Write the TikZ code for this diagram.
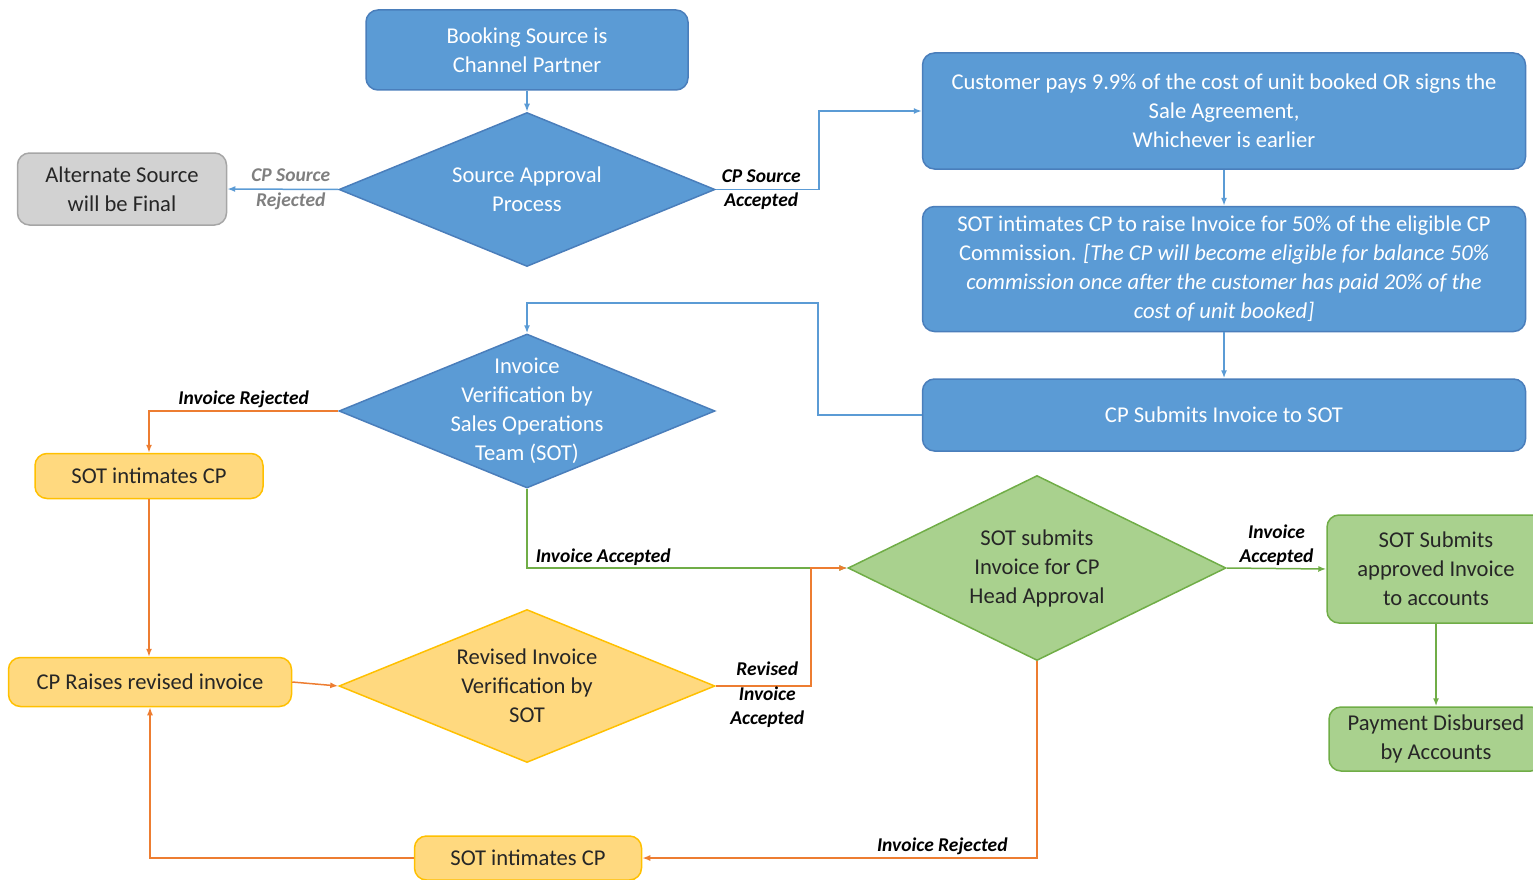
\documentclass[tikz,border=0pt]{standalone}
\usepackage{fontspec}
\setmainfont{Carlito}
\usetikzlibrary{shapes.geometric, arrows.meta, positioning}

\definecolor{cpblue}{HTML}{5B9BD5}
\definecolor{cpblueedge}{HTML}{4A7EBB}
\definecolor{cpgrey}{HTML}{D2D2D2}
\definecolor{cpgreyedge}{HTML}{A6A6A6}
\definecolor{cpgold}{HTML}{FFD97F}
\definecolor{cpgoldedge}{HTML}{FFC000}
\definecolor{cpgreen}{HTML}{A9D18E}
\definecolor{cpgreenedge}{HTML}{70AD47}
\definecolor{cporange}{HTML}{ED7D31}
\definecolor{cptext}{HTML}{262626}
\definecolor{cplabelgrey}{HTML}{7F7F7F}

\begin{document}
\begin{tikzpicture}[
    x=1pt, y=-1pt,
    inside/.style={align=center, font=\fontsize{22.6}{29}\selectfont},
    block/.style={rectangle, draw=cpblueedge, fill=cpblue, text=white, inside, line width=1.5pt, inner sep=0pt, rounded corners=12pt},
    decision/.style={diamond, line width=1.5pt, inner sep=0pt, minimum width=376pt, minimum height=154pt},
    tag/.style={align=center, font=\fontsize{19.5}{24.5}\selectfont\bfseries\itshape, text=black, inner sep=2pt},
    bline/.style={draw=cpblue, line width=1.5pt, -{Latex[length=8pt,width=6pt]}},
    oline/.style={draw=cporange, line width=1.5pt, -{Latex[length=8pt,width=6pt]}},
    gline/.style={draw=cpgreenedge, line width=1.5pt, -{Latex[length=8pt,width=6pt]}}
]
    \useasboundingbox (0,0) rectangle (1533,880);

    % top: source approval
    \node [block, minimum width=322pt, minimum height=80pt] (booking) at (527,50) {Booking Source is\\Channel Partner};
    \node [decision, draw=cpblueedge, fill=cpblue, below=21pt of booking,
        label={[inside, text=white]center:Source Approval\\Process}] (source) {};
    \node [block, fill=cpgrey, draw=cpgreyedge, text=cptext, minimum width=209pt, minimum height=72pt] (alternate) at (122,189) {Alternate Source\\will be Final};

    % right column
    \node [block, minimum width=603pt, minimum height=116pt] (customer) at (1224,111)
        {Customer pays 9.9\% of the cost of unit booked OR signs the\\Sale Agreement,\\Whichever is earlier};
    \node [block, minimum width=603pt, minimum height=125pt, below=36pt of customer] (raise)
        {SOT intimates CP to raise Invoice for 50\% of the eligible CP\\Commission. \textit{[The CP will become eligible for balance 50\%}\\\textit{commission once after the customer has paid 20\% of the}\\\textit{cost of unit booked]}};
    \node [block, minimum width=603pt, minimum height=72pt, below=46pt of raise] (cpsubmit) {CP Submits Invoice to SOT};

    % invoice verification
    \node [decision, draw=cpblueedge, fill=cpblue,
        label={[inside, text=white]center:Invoice\\Verification by\\Sales Operations\\Team (SOT)}] (invoice) at (527,411) {};
    \node [block, fill=cpgold, draw=cpgoldedge, text=cptext, minimum width=228pt, minimum height=45pt] (sotcp) at (149,476) {SOT intimates CP};
    \node [block, fill=cpgold, draw=cpgoldedge, text=cptext, minimum width=283pt, minimum height=49pt] (revisedcp) at (150,682) {CP Raises revised invoice};
    \node [decision, draw=cpgoldedge, fill=cpgold, minimum height=153pt,
        label={[inside, text=cptext]center:Revised Invoice\\Verification by\\SOT}] (revised) at (527,686) {};
    \node [block, fill=cpgold, draw=cpgoldedge, text=cptext, minimum width=227pt, minimum height=44pt] (sotcpb) at (528,858) {SOT intimates CP};

    % head approval and payment
    \node [decision, draw=cpgreenedge, fill=cpgreen, minimum width=378pt, minimum height=185pt,
        label={[inside, text=cptext]center:SOT submits\\Invoice for CP\\Head Approval}] (approval) at (1037,568) {};
    \node [block, fill=cpgreen, draw=cpgreenedge, text=cptext, minimum width=218pt, minimum height=108pt] (approved) at (1436,569) {SOT Submits\\approved Invoice\\to accounts};
    \node [block, fill=cpgreen, draw=cpgreenedge, text=cptext, minimum width=214pt, minimum height=64pt] (payment) at (1436,739) {Payment Disbursed\\by Accounts};

    % connectors
    \path [bline] (booking) -- (source);
    \path [bline] (source.west) -- node [tag, text=cplabelgrey, xshift=8pt] {CP Source\\Rejected} (alternate.east);
    \path [bline] (source.east) -- node [tag, xshift=-6pt] {CP Source\\Accepted} ++(103,0) |- (customer.west);
    \path [bline] (customer) -- (raise);
    \path [bline] (raise) -- (cpsubmit);
    \path [bline] (cpsubmit.west) -- ++(-104,0) -- ++(0,-112) -| (invoice.north);

    \path [oline] (invoice.west) -| node [tag, above, pos=0.25] {Invoice Rejected} (sotcp.north);
    \path [oline] (sotcp.south) -- (sotcp.south |- revisedcp.north);
    \path [oline] (revisedcp.east) -- (revised.west);
    \path [gline] (invoice.south) |- node [tag, above right, pos=0.5, xshift=6pt] {Invoice Accepted} (approval.west);
    \path [oline] (revised.east) -- node [tag, yshift=-9pt, xshift=4pt] {Revised\\Invoice\\Accepted} ++(95,0) |- (approval.west);

    \path [gline] (approval.east) -- node [tag, above] {Invoice\\Accepted} (approved.west);
    \path [gline] (approved.south) -- (approved.south |- payment.north);
    \path [oline] (approval.south) |- node [tag, above, pos=0.62] {Invoice Rejected} (sotcpb.east);
    \path [oline] (sotcpb.west) -| (revisedcp.south);
\end{tikzpicture}
\end{document}
